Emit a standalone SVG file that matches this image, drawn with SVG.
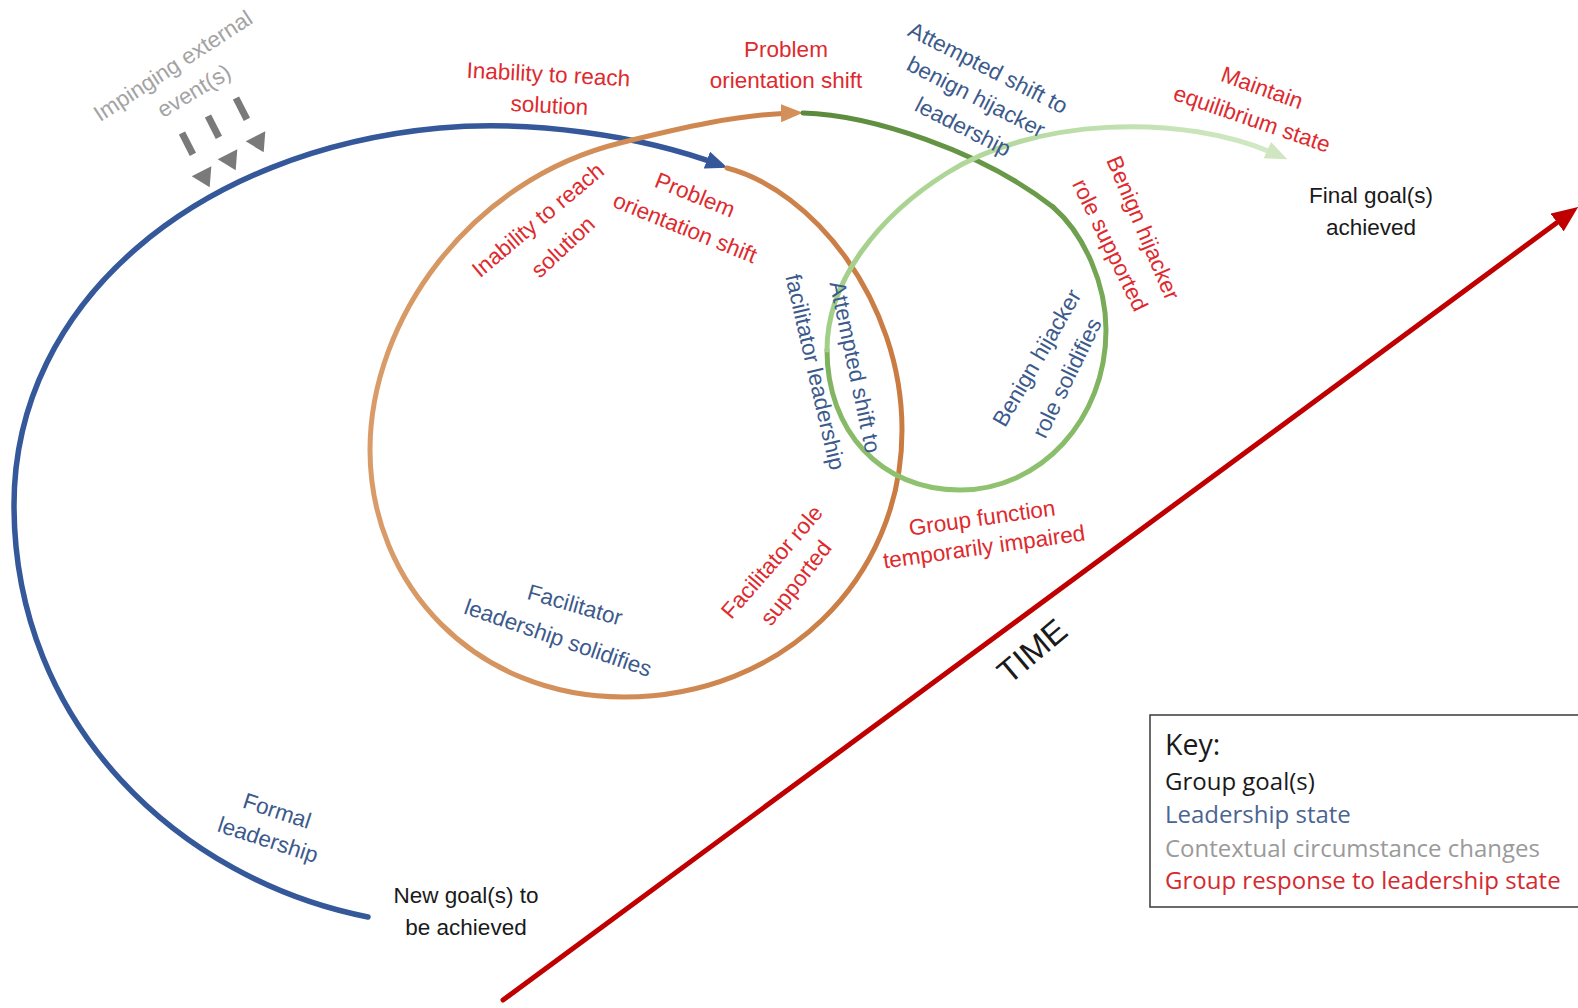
<svg xmlns="http://www.w3.org/2000/svg" width="1578" height="1008" viewBox="0 0 1578 1008">
  <style>
    .lbl { font-family: "Liberation Sans", Arial, sans-serif; font-size: 22.5px; text-anchor: middle; }
    .mid { dominant-baseline: central; }
    .red { fill: #de2a2e; }
    .blue { fill: #3c5a8c; }
    .black { fill: #1a1a1a; }
    .grey { fill: #a3a3a3; }
    .key { font-family: "Open Sans", "Noto Sans", sans-serif; font-size: 24px; }
    .conn { fill: none; stroke-linecap: round; }
  </style>
  <defs>
    <marker id="ah-blue" markerUnits="userSpaceOnUse" viewBox="0 0 22 18" markerWidth="22" markerHeight="18" refX="14" refY="9" orient="auto">
      <path d="M0,0 L22,9 L0,18 z" fill="#34589a"/>
    </marker>
    <marker id="ah-orange" markerUnits="userSpaceOnUse" viewBox="0 0 22 18" markerWidth="22" markerHeight="18" refX="14" refY="9" orient="auto">
      <path d="M0,0 L22,9 L0,18 z" fill="#d4905a"/>
    </marker>
    <marker id="ah-green" markerUnits="userSpaceOnUse" viewBox="0 0 22 18" markerWidth="22" markerHeight="18" refX="14" refY="9" orient="auto">
      <path d="M0,0 L22,9 L0,18 z" fill="#cfe6c1"/>
    </marker>
    <marker id="ah-red" markerUnits="userSpaceOnUse" viewBox="0 0 26 22" markerWidth="26" markerHeight="22" refX="16" refY="11" orient="auto">
      <path d="M0,0 L26,11 L0,22 z" fill="#c00000"/>
    </marker>
    <linearGradient id="g-orange" gradientUnits="userSpaceOnUse" x1="370" y1="0" x2="900" y2="0">
      <stop offset="0" stop-color="#d99c68"/>
      <stop offset="1" stop-color="#c97b42"/>
    </linearGradient>
    <linearGradient id="g-green-dark" gradientUnits="userSpaceOnUse" x1="803" y1="0" x2="1053" y2="0">
      <stop offset="0" stop-color="#5b8a3c"/>
      <stop offset="1" stop-color="#6b9c4b"/>
    </linearGradient>
    <linearGradient id="g-green-mid" gradientUnits="userSpaceOnUse" x1="0" y1="207" x2="0" y2="490">
      <stop offset="0" stop-color="#6b9c4b"/>
      <stop offset="1" stop-color="#8fc36f"/>
    </linearGradient>
    <linearGradient id="g-green-light" gradientUnits="userSpaceOnUse" x1="827" y1="0" x2="1285" y2="0">
      <stop offset="0" stop-color="#a2cf87"/>
      <stop offset="1" stop-color="#d3eac7"/>
    </linearGradient>
  </defs>

  <rect width="1578" height="1008" fill="#ffffff"/>

  <!-- spiral paths and time axis -->
  <g id="connectors">
    <path id="time-axis" class="conn" d="M 503 1000 L 1570 213" stroke="#c00000" stroke-width="5" stroke-linecap="butt" marker-end="url(#ah-red)"/>
    <path id="formal-loop" class="conn" d="M 368 917 C 180 880, 14 725, 14 505 C 14 300, 200 150, 440 128 C 530 120, 640 135, 720 165" stroke="#34589a" stroke-width="5.5" stroke-linecap="butt" marker-end="url(#ah-blue)"/>
    <path id="facilitator-loop" class="conn" d="M 727 168 C 812 190, 902 300, 902 430 C 902 580, 782 697, 624 697 C 475 697, 370 585, 370 450 C 370 320, 470 180, 620 143 C 680 128, 740 114, 795 113" stroke="url(#g-orange)" stroke-width="5" stroke-linecap="butt" marker-end="url(#ah-orange)"/>
    <path id="hijacker-loop-a" class="conn" d="M 803 113 C 870 115, 980 150, 1053 207" stroke="url(#g-green-dark)" stroke-width="5"/>
    <path id="hijacker-loop-b" class="conn" d="M 1053 207 C 1085 235, 1106 285, 1106 330 C 1106 420, 1040 490, 960 490 C 880 490, 827 430, 827 350" stroke="url(#g-green-mid)" stroke-width="5"/>
    <path id="hijacker-loop-c" class="conn" d="M 827 350 C 827 280, 880 215, 947 173 C 1030 120, 1180 110, 1280 156" stroke="url(#g-green-light)" stroke-width="5" stroke-linecap="butt" marker-end="url(#ah-green)"/>
  </g>

  <!-- impinging external events: three dashed grey arrows -->
  <g id="external-events">
    <text class="lbl grey mid" transform="translate(173,66) rotate(-33)">Impinging external</text>
    <text class="lbl grey mid" transform="translate(194,91) rotate(-31)">event(s)</text>
    <g fill="#7a7a7a">
      <g transform="translate(182,133) rotate(-27)"><rect x="-3.5" y="0" width="7" height="24"/><path d="M-11,43 L11,43 L0,61 z"/></g>
      <g transform="translate(208,116) rotate(-27)"><rect x="-3.5" y="0" width="7" height="24"/><path d="M-11,43 L11,43 L0,61 z"/></g>
      <g transform="translate(236,98) rotate(-27)"><rect x="-3.5" y="0" width="7" height="24"/><path d="M-11,43 L11,43 L0,61 z"/></g>
    </g>
  </g>

  <g id="new-goal">
    <text class="lbl black" x="466" y="903">New goal(s) to</text>
    <text class="lbl black" x="466" y="935">be achieved</text>
  </g>

  <g id="formal-leadership">
    <text class="lbl blue mid" transform="translate(277,811) rotate(18)">Formal</text>
    <text class="lbl blue mid" transform="translate(268,840) rotate(18)">leadership</text>
  </g>

  <g id="inability-outer">
    <text class="lbl red" transform="translate(548,82) rotate(3)">Inability to reach</text>
    <text class="lbl red" transform="translate(549,113) rotate(3)">solution</text>
  </g>

  <g id="problem-shift-outer">
    <text class="lbl red" x="786" y="57">Problem</text>
    <text class="lbl red" x="786" y="88">orientation shift</text>
  </g>

  <g id="inability-inner">
    <text class="lbl red mid" transform="translate(538,220) rotate(-40)">Inability to reach</text>
    <text class="lbl red mid" transform="translate(563,247) rotate(-43)">solution</text>
  </g>

  <g id="problem-shift-inner">
    <text class="lbl red mid" transform="translate(695,195) rotate(22)">Problem</text>
    <text class="lbl red mid" transform="translate(685,228) rotate(22)">orientation shift</text>
  </g>

  <g id="attempted-facilitator">
    <text class="lbl blue mid" transform="translate(855,367) rotate(78)">Attempted shift to</text>
    <text class="lbl blue mid" transform="translate(815,372) rotate(77)">facilitator leadership</text>
  </g>

  <g id="facilitator-solidifies">
    <text class="lbl blue mid" transform="translate(575,605) rotate(16)">Facilitator</text>
    <text class="lbl blue mid" transform="translate(558,638) rotate(19)">leadership solidifies</text>
  </g>

  <g id="facilitator-supported">
    <text class="lbl red mid" transform="translate(772,562) rotate(-49)">Facilitator role</text>
    <text class="lbl red mid" transform="translate(796,583) rotate(-52)">supported</text>
  </g>

  <g id="group-impaired">
    <text class="lbl red mid" transform="translate(982,518) rotate(-8)">Group function</text>
    <text class="lbl red mid" transform="translate(984,547) rotate(-8)">temporarily impaired</text>
  </g>

  <g id="attempted-hijacker">
    <text class="lbl blue mid" transform="translate(988,68) rotate(27)">Attempted shift to</text>
    <text class="lbl blue mid" transform="translate(976,97) rotate(27)">benign hijacker</text>
    <text class="lbl blue mid" transform="translate(963,127) rotate(27)">leadership</text>
  </g>

  <g id="hijacker-solidifies">
    <text class="lbl blue mid" transform="translate(1037,358) rotate(-60)">Benign hijacker</text>
    <text class="lbl blue mid" transform="translate(1067,378) rotate(-64)">role solidifies</text>
  </g>

  <g id="hijacker-supported">
    <text class="lbl red mid" transform="translate(1143,228) rotate(67)">Benign hijacker</text>
    <text class="lbl red mid" transform="translate(1110,245) rotate(64)">role supported</text>
  </g>

  <g id="maintain-equilibrium">
    <text class="lbl red mid" transform="translate(1262,88) rotate(20)">Maintain</text>
    <text class="lbl red mid" transform="translate(1252,119) rotate(19)">equilibrium state</text>
  </g>

  <g id="final-goal">
    <text class="lbl black" x="1371" y="203">Final goal(s)</text>
    <text class="lbl black" x="1371" y="235">achieved</text>
  </g>

  <g id="time-label">
    <text class="lbl black mid" style="font-size:33px" transform="translate(1032,651) rotate(-40)">TIME</text>
  </g>

  <g id="key">
    <rect x="1150" y="715" width="440" height="192" fill="#ffffff" stroke="#3a3a3a" stroke-width="1.5"/>
    <text class="key" x="1165" y="755" fill="#1a1a1a" style="font-size:28.5px">Key:</text>
    <text class="key" x="1165" y="790" fill="#1a1a1a">Group goal(s)</text>
    <text class="key" x="1165" y="823" fill="#4a6592">Leadership state</text>
    <text class="key" x="1165" y="857" fill="#9a9a9a">Contextual circumstance changes</text>
    <text class="key" x="1165" y="889" fill="#d42a2f">Group response to leadership state</text>
  </g>
</svg>
